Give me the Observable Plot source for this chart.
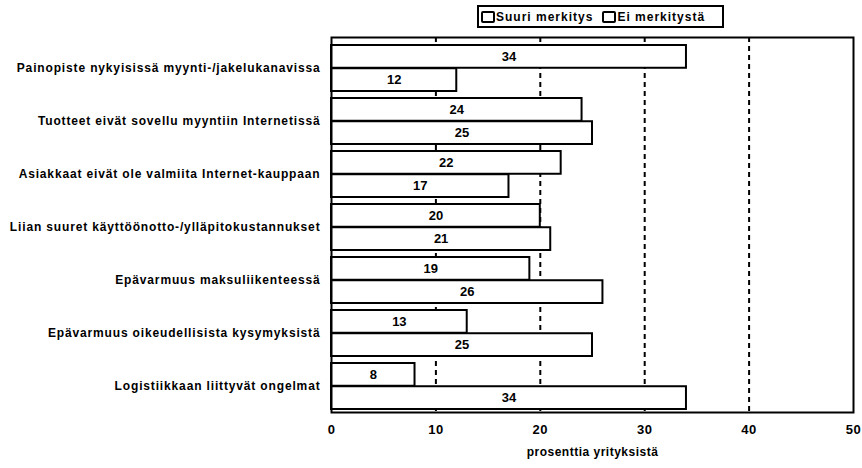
<!DOCTYPE html>
<html>
<head>
<meta charset="utf-8">
<script src="https://cdn.jsdelivr.net/npm/d3@7"></script>
<script src="https://cdn.jsdelivr.net/npm/@observablehq/plot@0.6"></script>
<style>
  html, body { margin: 0; padding: 0; background: #fff; }
  #wrap { width: 862px; height: 468px; position: relative; font-family: "Liberation Sans", Arial, sans-serif; color: #000; }
  #legend { height: 30px; position: relative; }
  #legend .box { position: absolute; left: 477px; top: 5px; width: 239px; height: 19px; padding: 0 2px; border: 2px solid #000; display: flex; align-items: center; font-size: 12px; font-weight: bold; letter-spacing: 1px; white-space: nowrap; }
  #legend .sw { display: inline-block; width: 10px; height: 8px; border: 2px solid #000; border-radius: 2px; background: #fff; margin-right: 1px; }
  #legend .item { display: inline-flex; align-items: center; margin-right: 9px; }
  svg { display: block; }
  g[aria-label="y-axis tick label"] text { letter-spacing: 0.85px; }
  g[aria-label="x-axis tick label"] text { letter-spacing: 0.5px; }
  .xlabel text { letter-spacing: 0.5px; }
</style>
</head>
<body>
<div id="wrap">
  <div id="legend"></div>
  <div id="chart"></div>
</div>
<script>
// Reasons for not selling online, share of companies (%)
const categories = [
  "Painopiste nykyisissä myynti-/jakelukanavissa",
  "Tuotteet eivät sovellu myyntiin Internetissä",
  "Asiakkaat eivät ole valmiita Internet-kauppaan",
  "Liian suuret käyttöönotto-/ylläpitokustannukset",
  "Epävarmuus maksuliikenteessä",
  "Epävarmuus oikeudellisista kysymyksistä",
  "Logistiikkaan liittyvät ongelmat"
];
const seriesNames = ["Suuri merkitys", "Ei merkitystä"];
const suuriMerkitys = [34, 24, 22, 20, 19, 13, 8];
const eiMerkitysta = [12, 25, 17, 21, 26, 25, 34];
const xTicks = [0, 10, 20, 30, 40, 50];
const gridValues = [10, 20, 30, 40];
const xLabel = "prosenttia yrityksistä";

const rows = categories.flatMap((c, i) => [
  {category: c, series: seriesNames[0], value: suuriMerkitys[i]},
  {category: c, series: seriesNames[1], value: eiMerkitysta[i]}
]);
const first = rows.filter(d => d.series === seriesNames[0]);
const second = rows.filter(d => d.series === seriesNames[1]);

// legend
const legend = document.getElementById("legend");
const box = document.createElement("div");
box.className = "box";
seriesNames.forEach(name => {
  const item = document.createElement("span");
  item.className = "item";
  const sw = document.createElement("span");
  sw.className = "sw";
  item.appendChild(sw);
  item.appendChild(document.createTextNode(name));
  box.appendChild(item);
});
legend.appendChild(box);

// band layout: each category band holds two stacked bars
const step = 53.3;
const padInner = 0.128;
const bw = step * (1 - padInner);
const bandStart = 14;
const half = bw / 2;

const chart = Plot.plot({
  width: 862,
  height: 438,
  marginTop: 7,
  marginBottom: 56,
  marginLeft: 331,
  marginRight: 9,
  style: {fontFamily: "'Liberation Sans', Arial, sans-serif", color: "#000", background: "#fff"},
  x: {domain: [0, 50]},
  y: {domain: categories, range: [bandStart, bandStart + step * (categories.length - padInner)], paddingInner: padInner, paddingOuter: 0},
  marks: [
    Plot.ruleX(gridValues, {stroke: "#000", strokeWidth: 2, strokeDasharray: "5,4"}),
    Plot.barX(first, {x: "value", y: "category", fill: "#fff", stroke: "#000", strokeWidth: 2, insetBottom: half}),
    Plot.barX(second, {x: "value", y: "category", fill: "#fff", stroke: "#000", strokeWidth: 2, insetTop: half}),
    Plot.text(first, {x: d => d.value / 2, y: "category", text: d => String(d.value), dy: -half / 2, fontSize: 13, fontWeight: "bold", fill: "#000"}),
    Plot.text(second, {x: d => d.value / 2, y: "category", text: d => String(d.value), dy: half / 2, fontSize: 13, fontWeight: "bold", fill: "#000"}),
    Plot.frame({stroke: "#000", strokeWidth: 2}),
    Plot.axisX({ticks: xTicks, tickSize: 0, tickPadding: 12, fontSize: 13, fontWeight: "bold", label: null}),
    Plot.axisY({tickSize: 0, tickPadding: 11, fontSize: 12, fontWeight: "bold", label: null}),
    Plot.text([xLabel], {frameAnchor: "bottom", dy: 43, fontSize: 12, fontWeight: "bold", fill: "#000", className: "xlabel"})
  ]
});
document.getElementById("chart").appendChild(chart);
</script>
</body>
</html>
